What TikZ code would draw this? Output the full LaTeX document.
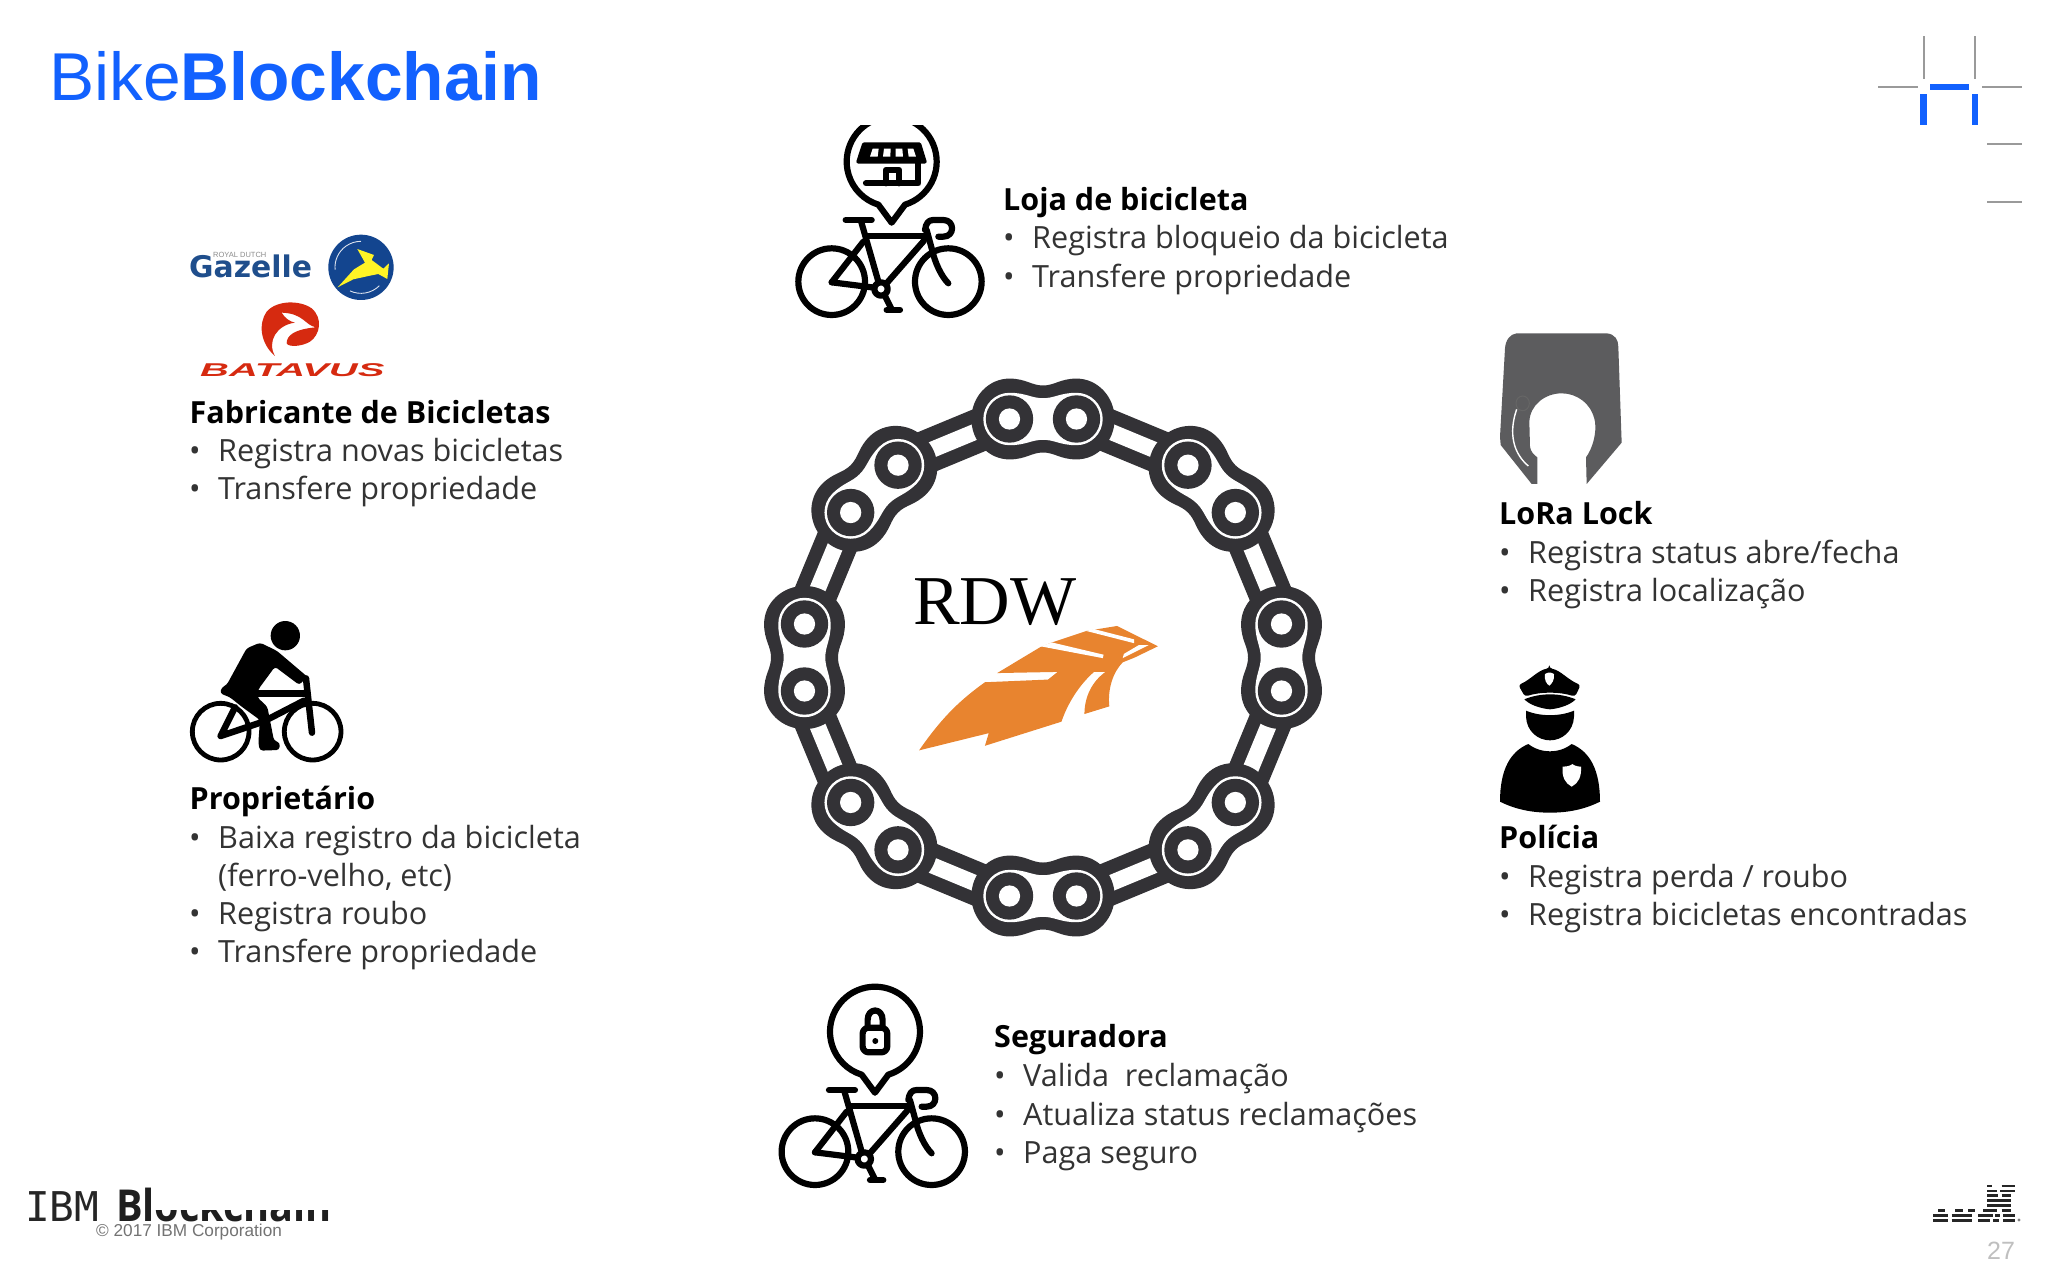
\documentclass[tikz,border=0pt]{standalone}
\usepackage{fontspec}
\setmainfont{Open Sans}
\newfontfamily\liberationsans{Liberation Sans}
\newfontfamily\liberationserif{Liberation Serif}
\newfontfamily\dejamono{DejaVu Sans Mono}
\newfontfamily\dejasans{DejaVu Sans}
\definecolor{chainc}{HTML}{333236}
\definecolor{ibmblue}{HTML}{1261FE}
\definecolor{rdworange}{HTML}{E8842F}
\definecolor{lockgray}{HTML}{5C5C5E}
\definecolor{gazblue}{HTML}{1F4E8C}
\definecolor{gazdisc}{HTML}{13458F}
\definecolor{batred}{HTML}{D62A10}
\definecolor{cornergray}{HTML}{9A9A9A}
\tikzset{
  headtext/.style={anchor=base west,inner sep=0pt,font=\fontsize{30.5}{36}\selectfont\bfseries,text=black},
  bodytext/.style={anchor=base west,inner sep=0pt,font=\fontsize{30.6}{36}\selectfont,text=black!80},
  icon/.style={line width=6.2pt,line cap=round,line join=round,draw=black},
  thinicon/.style={line width=4.6pt,line cap=round,line join=round,draw=black},
  graymark/.style={draw=cornergray,line width=2pt},
  bluemark/.style={draw=ibmblue,line width=6.5pt},
  logostripe/.style={draw=black!85,line width=2.6pt},
}
\newcommand{\bikeglyph}{%
  \draw[icon] (155,485) circle (100);
  \draw[icon] (505,485) circle (100);
  \draw[icon] (303,507) circle (20);
  \draw[icon] (197,300) -- (275,300);
  \draw[icon] (243,303) -- (296,488);
  \draw[icon] (258,347) -- (440,347);
  \draw[icon] (432,362) -- (318,492);
  \draw[icon] (155,487) -- (283,503);
  \draw[icon] (155,487) -- (250,365);
  \draw[icon] (435,330) .. controls (438,310) and (445,300) .. (460,300) -- (490,300) .. controls (525,300) and (525,350) .. (490,350) -- (475,350);
  \draw[icon] (440,330) -- (455,385) .. controls (465,430) and (485,470) .. (505,490);
  \draw[icon] (314,526) -- (336,570);
  \draw[icon] (320,570) -- (360,570);
  \draw[icon] (375,254) arc[start angle=72.8,end angle=-252.8,radius=135] -- (335,308) -- cycle;
}
\begin{document}
\begin{tikzpicture}[x=1pt,y=-1pt]
\useasboundingbox (0,0) rectangle (2048,1280);
\fill[white] (0,0) rectangle (2048,1280);

% title
\node[anchor=base west,inner sep=0pt,text=ibmblue,font=\liberationsans\fontsize{67.7}{72}\selectfont] (title) at (49,100) {Bike\textbf{Blockchain}};

% corner mark
\draw[graymark] (1923.7,36) -- (1923.7,79);
\draw[graymark] (1975,36) -- (1975,79);
\draw[graymark] (1878,87) -- (1918,87);
\draw[graymark] (1982,87) -- (2022,87);
\draw[bluemark] (1930,87) -- (1969,87);
\draw[bluemark] (1923.7,94) -- (1923.7,125);
\draw[bluemark] (1975,94) -- (1975,125);
\draw[graymark] (1987,144) -- (2022,144);
\draw[graymark] (1987,202) -- (2022,202);

% chain
\begin{scope}[shift={(1043,657.5)},x=1.155pt,y=-1.155pt]
  \foreach \a in {22.5,67.5,...,337.5}{
    \begin{scope}[shift={(\a:203)},rotate=90-\a]
      \fill[chainc] (-52,-18.7) rectangle (52,18.7);
      \fill[white] (-52,-7) rectangle (52,7);
    \end{scope}
  }
  \foreach \a in {0,45,...,315}{
    \begin{scope}[shift={(\a:206.5)},rotate=90-\a]
      \fill[chainc] (-29,-35) .. controls (-15,-35) and (-10,-29) .. (0,-29) .. controls (10,-29) and (15,-35) .. (29,-35)
        arc[start angle=-90,end angle=90,x radius=33,y radius=35]
        .. controls (15,35) and (10,29) .. (0,29) .. controls (-10,29) and (-15,35) .. (-29,35)
        arc[start angle=90,end angle=270,x radius=33,y radius=35] -- cycle;
      \fill[white] (-29,-22.7) .. controls (-15,-22.7) and (-10,-18) .. (0,-18) .. controls (10,-18) and (15,-22.7) .. (29,-22.7)
        arc[start angle=-90,end angle=90,radius=22.7]
        .. controls (15,22.7) and (10,18) .. (0,18) .. controls (-10,18) and (-15,22.7) .. (-29,22.7)
        arc[start angle=90,end angle=270,radius=22.7] -- cycle;
      \fill[chainc] (-29,0) circle (20.5) (29,0) circle (20.5);
      \fill[white] (-29,0) circle (9.2) (29,0) circle (9.2);
    \end{scope}
  }
\end{scope}

% RDW logo
\node[anchor=base west,inner sep=0pt,font=\liberationserif\fontsize{70}{74}\selectfont,text=black] (rdw) at (913,624) {RDW};
\begin{scope}[shift={(740,360)},x=.3827pt,y=-.3827pt]
  \fill[rdworange] (468,1020) .. controls (530,930) and (580,885) .. (640,842) -- (805,835) -- (830,815) -- (672,818) -- (785,750) -- (815,738) -- (905,708) -- (985,695) -- (1092,748) -- (1030,778) -- (1000,790) .. controls (975,815) and (960,860) .. (965,905) -- (900,925) .. controls (900,880) and (920,840) .. (955,815) -- (925,815) .. controls (885,850) and (855,900) .. (840,945) -- (640,1008) -- (650,975) -- cycle;
  \fill[white] (785,748) -- (948,779) -- (950,770) -- (815,738) -- cycle;
  \fill[white] (905,708) -- (1030,740) -- (1030,730) -- (925,703) -- cycle;
  \fill[white] (1000,779) -- (1068,745) -- (1042,745) -- (1003,768) -- cycle;
\end{scope}

% shop + bicycle icon
\begin{scope}[shift={(780,120)},x=.3333pt,y=-.3333pt]
  \bikeglyph
  \fill[black,draw=black,line width=4pt,line join=round] (252,73) -- (418,73) -- (434,125) -- (235,125) -- cycle;
  \fill[white] (278,86) -- (296,86) -- (293,110) -- (270,110) -- cycle;
  \fill[white] (312,86) -- (332,86) -- (331,110) -- (309,110) -- cycle;
  \fill[white] (347,86) -- (367,86) -- (369,110) -- (347,110) -- cycle;
  \fill[white] (383,86) -- (400,86) -- (408,110) -- (386,110) -- cycle;
  \draw[icon] (415,125) -- (415,190) -- (258,190);
  \draw[icon] (318,190) -- (318,150) -- (358,150) -- (358,190);
\end{scope}
\fill[white] (780,100) rectangle (1000,125);

% lock + bicycle icon
\begin{scope}[shift={(763.3,990)},x=.3333pt,y=-.3333pt]
  \bikeglyph
  \draw[icon,rounded corners=6pt] (298,113) rectangle (372,187);
  \draw[icon] (313,113) -- (313,90) .. controls (313,52) and (358,52) .. (358,90) -- (358,113);
  \fill[black] (336,153) circle (9);
\end{scope}

% rider icon
\begin{scope}[shift={(180,610)},x=.3333pt,y=-.3333pt]
  \draw[thinicon,line width=4.8pt] (122,365) circle (85);
  \draw[thinicon,line width=4.8pt] (398,365) circle (85);
  \fill[black] (316,77) circle (44);
  \fill[black,rounded corners=3pt] (240,98) -- (290,122) -- (370,190) -- (382,200) -- (358,225) -- (285,170) -- (235,238) -- (232,262) -- (262,290) -- (282,392) -- (300,398) -- (298,420) -- (240,422) -- (235,400) -- (240,330) -- (185,290) -- (150,262) -- (120,250) -- (125,232) -- (140,225) -- (200,115) -- cycle;
  \draw[thinicon,line width=6.5pt] (230,250) -- (380,250);
  \draw[thinicon,line width=6.5pt] (378,205) -- (396,368);
  \draw[thinicon,line width=6.5pt] (165,292) -- (122,378) -- (250,335) -- (372,272);
\end{scope}

% LoRa lock
\begin{scope}[shift={(1480,320)},x=.3333pt,y=-.3333pt]
  \fill[lockgray] (110,40) -- (380,40) .. controls (405,42) and (415,60) .. (415,80) -- (425,368) -- (320,492) -- (318,412) .. controls (338,385) and (350,340) .. (345,305) .. controls (335,250) and (290,220) .. (245,220) .. controls (195,220) and (150,255) .. (148,305) -- (150,380) .. controls (152,395) and (162,405) .. (172,412) -- (172,492) -- (155,492) -- (62,375) -- (60,350) -- (75,85) .. controls (77,60) and (90,42) .. (110,40) -- cycle;
  \draw[white,line width=1.4pt] (110,268) .. controls (85,340) and (100,400) .. (145,438);
  \draw[black!60,line width=1pt] (128,250) ellipse (20 and 22);
\end{scope}

% police icon
\begin{scope}[shift={(1480,660)},x=.3333pt,y=-.3333pt]
  \fill[black,rounded corners=3pt] (208,25) .. controls (240,30) and (265,60) .. (302,75) -- (285,110) .. controls (240,95) and (180,95) .. (135,110) -- (115,75) .. controls (150,60) and (175,30) .. (208,25) -- cycle;
  \fill[white] (195,42) .. controls (205,36) and (212,36) .. (222,42) .. controls (224,60) and (215,72) .. (208,77) .. controls (200,72) and (192,60) .. (195,42) -- cycle;
  \fill[black] (133,118) .. controls (180,98) and (240,98) .. (287,118) .. controls (270,135) and (240,145) .. (210,148) .. controls (180,145) and (150,135) .. (133,118) -- cycle;
  \fill[black] (138,152) .. controls (180,170) and (240,170) .. (282,152) -- (282,170) .. controls (280,215) and (245,241) .. (210,241) .. controls (175,241) and (140,215) .. (138,170) -- cycle;
  \fill[black] (145,252) .. controls (165,268) and (190,274) .. (210,274) .. controls (230,274) and (255,268) .. (275,252) .. controls (330,275) and (360,330) .. (360,425) .. controls (310,450) and (260,458) .. (210,458) .. controls (160,458) and (110,450) .. (60,425) .. controls (60,330) and (90,275) .. (145,252) -- cycle;
  \fill[white] (248,320) .. controls (265,320) and (275,315) .. (277,312) .. controls (280,315) and (290,320) .. (303,320) .. controls (305,350) and (295,370) .. (275,380) .. controls (255,370) and (245,350) .. (248,320) -- cycle;
\end{scope}

% manufacturer logos
\node[anchor=base west,inner sep=0pt,text=gazblue,font=\dejasans\bfseries\fontsize{29.8}{32}\selectfont] (gazelle) at (189,277) {Gazelle};
\node[anchor=base west,inner sep=0pt,text=black!45,font=\liberationsans\fontsize{7.5}{8}\selectfont] (royal) at (213,257) {ROYAL DUTCH};
\begin{scope}[shift={(170,210)},x=.3333pt,y=-.3333pt]
  \fill[gazdisc] (573,172) circle (98);
  \draw[white!85!gazdisc,line width=.9pt] (573,172) ++(175:78) arc[start angle=175,end angle=270,radius=78];
  \draw[white!85!gazdisc,line width=.9pt] (573,172) ++(45:78) arc[start angle=45,end angle=115,radius=78];
  \fill[yellow!85!white] (503,232) -- (552,178) -- (585,158) -- (562,117) -- (612,135) -- (605,150) -- (640,176) -- (657,160) -- (652,207) -- (625,192) -- (600,197) -- (550,208) -- cycle;
  \fill[batred] (315,438) .. controls (270,400) and (265,340) .. (290,305) .. controls (320,270) and (390,270) .. (425,295) .. controls (460,325) and (450,375) .. (420,395) .. controls (395,410) and (355,412) .. (350,400) .. controls (350,375) and (375,358) .. (437,352) .. controls (405,345) and (400,310) .. (335,308) .. controls (345,325) and (360,335) .. (375,338) .. controls (320,345) and (290,395) .. (315,438) -- cycle;
\end{scope}
\node[anchor=base west,inner sep=0pt,text=batred,font=\liberationsans\bfseries\itshape\fontsize{18.5}{20}\selectfont] (batavus) at (200,376) {\scalebox{2.16}[1]{BATAVUS}};

% text blocks
\node[headtext] (h1) at (189.5,423) {Fabricante de Bicicletas};
\node[bodytext] (b1a) at (189,461) {•}; \node[bodytext] (t1a) at (218,461) {Registra novas bicicletas};
\node[bodytext] (b1b) at (189,499.5) {•}; \node[bodytext] (t1b) at (218,499.5) {Transfere propriedade};

\node[headtext] (h2) at (189.5,809) {Proprietário};
\node[bodytext] (b2a) at (189,848) {•}; \node[bodytext] (t2a) at (218,848) {Baixa registro da bicicleta};
\node[bodytext] (t2a2) at (218,886) {(ferro-velho, etc)};
\node[bodytext] (b2b) at (189,924) {•}; \node[bodytext] (t2b) at (218,924) {Registra roubo};
\node[bodytext] (b2c) at (189,962.5) {•}; \node[bodytext] (t2c) at (218,962.5) {Transfere propriedade};

\node[headtext] (h3) at (1003,210) {Loja de bicicleta};
\node[bodytext] (b3a) at (1003,248.5) {•}; \node[bodytext] (t3a) at (1032,248.5) {Registra bloqueio da bicicleta};
\node[bodytext] (b3b) at (1003,287) {•}; \node[bodytext] (t3b) at (1032,287) {Transfere propriedade};

\node[headtext] (h4) at (994,1047.5) {Seguradora};
\node[bodytext] (b4a) at (994,1086) {•}; \node[bodytext] (t4a) at (1023,1086) {Valida\ \ reclamação};
\node[bodytext] (b4b) at (994,1125) {•}; \node[bodytext] (t4b) at (1023,1125) {Atualiza status reclamações};
\node[bodytext] (b4c) at (994,1163) {•}; \node[bodytext] (t4c) at (1023,1163) {Paga seguro};

\node[headtext] (h5) at (1499,524) {LoRa Lock};
\node[bodytext] (b5a) at (1499,563) {•}; \node[bodytext] (t5a) at (1528,563) {Registra status abre/fecha};
\node[bodytext] (b5b) at (1499,601) {•}; \node[bodytext] (t5b) at (1528,601) {Registra localização};

\node[headtext] (h6) at (1499,848) {Polícia};
\node[bodytext] (b6a) at (1499,887) {•}; \node[bodytext] (t6a) at (1528,887) {Registra perda / roubo};
\node[bodytext] (b6b) at (1499,925) {•}; \node[bodytext] (t6b) at (1528,925) {Registra bicicletas encontradas};

% footer
\node[anchor=base west,inner sep=0pt,font=\dejamono\fontsize{41}{44}\selectfont,text=black!85] (ibmword) at (25,1221) {IBM};
\node[anchor=base west,inner sep=0pt,font=\bfseries\fontsize{44}{46}\selectfont,text=black!88] (blockword) at (116,1221) {\scalebox{.9}[1]{Blockchain}};
\fill[white] (155,1170) rectangle (345,1210);
\fill[white] (20,1221.5) rectangle (345,1240);
\node[anchor=base west,inner sep=0pt,font=\liberationsans\fontsize{17.2}{20}\selectfont,text=black!55] (copyr) at (96,1236) {© 2017 IBM Corporation};

% IBM logo
\begin{scope}[shift={(1900,1160)},x=.3333pt,y=-.3333pt]
  \foreach \xa/\xb/\yy in {262/275/78,305/345/78,262/290/93,300/345/93,262/295/107,305/332/107,262/332/122,262/332/137,
     115/135/152,165/190/152,205/225/152,250/290/152,305/332/152,
     100/145/167,155/215/167,235/280/167,285/300/167,310/345/167,
     100/145/181,155/215/181,235/270/181,280/297/181,310/345/181}{
    \draw[logostripe] (\xa,\yy) -- (\xb,\yy);
  }
  \fill[black!50] (357,180) circle (5);
\end{scope}
\node[anchor=base west,inner sep=0pt,font=\liberationsans\fontsize{25}{27}\selectfont,text=black!25] (pagenum) at (1987,1259) {27};
\end{tikzpicture}
\end{document}
